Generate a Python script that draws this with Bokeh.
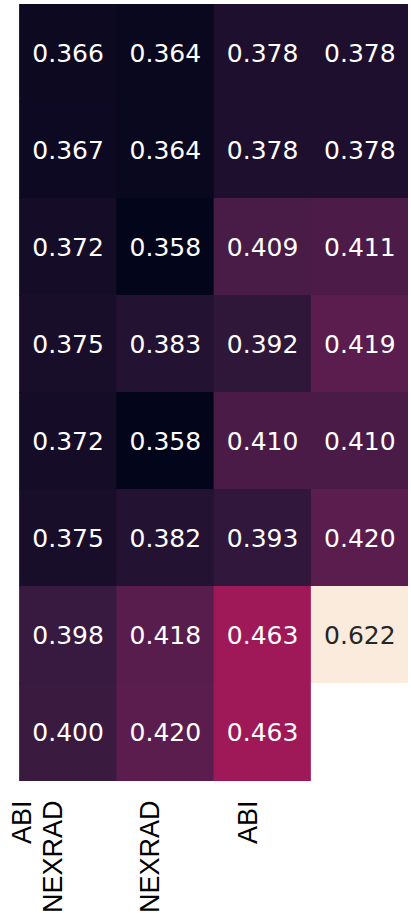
import numpy as np
from bokeh.plotting import figure
from bokeh.models import ColumnDataSource, LinearColorMapper, Range1d
from bokeh.core.properties import value
from bokeh.embed import file_html
from bokeh.resources import INLINE

# ---- data ----
col_labels = ["ABI\nNEXRAD", "NEXRAD", "ABI", ""]
row_1 = [0.366, 0.364, 0.378, 0.378]
row_2 = [0.367, 0.364, 0.378, 0.378]
row_3 = [0.372, 0.358, 0.409, 0.411]
row_4 = [0.375, 0.383, 0.392, 0.419]
row_5 = [0.372, 0.358, 0.410, 0.410]
row_6 = [0.375, 0.382, 0.393, 0.420]
row_7 = [0.398, 0.418, 0.463, 0.622]
row_8 = [0.400, 0.420, 0.463, float("nan")]
rows = [row_1, row_2, row_3, row_4, row_5, row_6, row_7, row_8]

# ---- rocket-like colormap ----
anchor_pos = [0.0, 1/7, 2/7, 3/7, 4/7, 5/7, 6/7, 1.0]
anchor_hex = ["#03051A", "#35193E", "#701F57", "#AD1759", "#E13342", "#F37651", "#F6B48F", "#FAEBDD"]

def hex2rgb(h):
    h = h.lstrip("#")
    return [int(h[i:i + 2], 16) for i in (0, 2, 4)]

anchor_rgb = np.array([hex2rgb(h) for h in anchor_hex], dtype=float)
t = np.linspace(0, 1, 256)
pal_rgb = np.stack([np.interp(t, anchor_pos, anchor_rgb[:, k]) for k in range(3)], axis=1)
palette = ["#%02x%02x%02x" % tuple(int(round(c)) for c in rgb) for rgb in pal_rgb]

vals = np.array(rows, dtype=float)
lo, hi = np.nanmin(vals), np.nanmax(vals)
mapper = LinearColorMapper(palette=palette, low=lo, high=hi, nan_color="white")

def lum(rgb):
    c = np.array(rgb) / 255.0
    c = np.where(c <= 0.03928, c / 12.92, ((c + 0.055) / 1.055) ** 2.4)
    return 0.2126 * c[0] + 0.7152 * c[1] + 0.0722 * c[2]

xs, ys, vs, txt, tcol = [], [], [], [], []
n_rows, n_cols = len(rows), len(col_labels)
for i, r in enumerate(rows):
    for j, v in enumerate(r):
        xs.append(j + 0.5)
        ys.append(i + 0.5)
        vs.append(v)
        if np.isnan(v):
            txt.append("")
            tcol.append("white")
        else:
            txt.append("%.3f" % v)
            idx = int(min(255, max(0, (v - lo) / (hi - lo) * 256)))
            tcol.append("#262626" if lum(pal_rgb[idx]) > 0.408 else "white")

src = ColumnDataSource(dict(x=xs, y=ys, v=vs, t=txt, c=tcol))

W, H = 408, 913
col_px = 97.25
row_px = 97.0
left_px, top_px = 19, 4
p = figure(width=W, height=H, output_backend="svg", toolbar_location=None,
           x_range=Range1d(-left_px / col_px, (W - left_px) / col_px),
           y_range=Range1d((H - top_px) / row_px, -top_px / row_px),
           min_border=0)
p.axis.visible = False
p.grid.visible = False
p.outline_line_color = None
p.background_fill_color = "white"
p.border_fill_color = "white"

fill = {"field": "v", "transform": mapper}
p.rect(x="x", y="y", width=1.008, height=1.008, source=src,
       fill_color=fill, line_color=None)
p.text(x="x", y="y", text="t", source=src, text_color="c",
       text_font=value("DejaVu Sans"), text_font_size="25px",
       text_align="center", text_baseline="middle")

lab_src = ColumnDataSource(dict(x=[j + 0.5 for j in range(n_cols)],
                                y=[n_rows + 20 / row_px] * n_cols,
                                t=col_labels))
p.text(x="x", y="y", text="t", source=lab_src, angle=np.pi / 2,
       text_font=value("Liberation Sans"), text_font_size="27px",
       text_color="black", text_align="right", text_baseline="bottom",
       text_line_height=1.05)

open("out.html", "w").write(file_html(p, INLINE))
